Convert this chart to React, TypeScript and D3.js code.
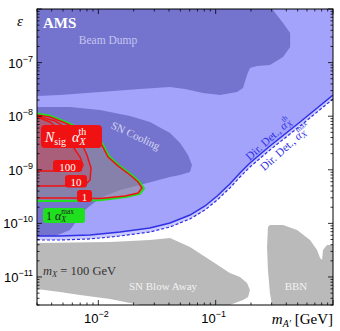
import React from 'react';
import * as d3 from 'd3';

type Pt = [number, number];

// mass m_A' in GeV, kinetic mixing epsilon
const beamDump: Pt[] = [
  [3e-3, 1e-6], [0.29, 1e-6], [0.308, 9.6e-7], [0.375, 5.48e-7], [0.431, 3.56e-7],
  [0.431, 1.95e-7], [0.375, 1.27e-7], [0.29, 9.02e-8], [0.225, 8.64e-8], [0.196, 7.93e-8],
  [0.185, 5.87e-8], [0.171, 3.36e-8], [0.152, 2.83e-8], [0.109, 2.49e-8], [0.078, 2.71e-8],
  [0.0548, 3.22e-8], [0.0408, 3.51e-8], [0.0226, 3.22e-8], [0.0103, 2.83e-8],
  [4.71e-3, 2.49e-8], [3e-3, 2.38e-8],
];

const snCooling: Pt[] = [
  [3e-3, 1.49e-8], [5.73e-3, 1.49e-8], [1.03e-2, 1.31e-8], [1.86e-2, 1.01e-8],
  [2.75e-2, 7.79e-9], [4.08e-2, 4.86e-9], [4.97e-2, 3.16e-9], [5.81e-2, 1.89e-9],
  [6.28e-2, 1.23e-9], [6.04e-2, 9.1e-10], [4.97e-2, 8e-10], [4.08e-2, 7.34e-10],
  [2.26e-2, 5.2e-10], [1.53e-2, 4.2e-10], [1.03e-2, 2.98e-10], [7.69e-3, 1.78e-10],
  [5.73e-3, 7.53e-11], [4.27e-3, 5.82e-11], [3e-3, 5.82e-11],
];

const dirDetTh: Pt[] = [
  [3e-3, 5.82e-11], [4.71e-3, 5.82e-11], [8.49e-3, 6.08e-11], [1.53e-2, 6.9e-11],
  [2.75e-2, 8.2e-11], [4.08e-2, 1.02e-10], [6.04e-2, 1.43e-10], [8.11e-2, 2.11e-10],
  [0.103, 3.24e-10], [0.132, 5.43e-10], [0.161, 8.71e-10], [0.196, 1.34e-9],
  [0.29, 2.78e-9], [0.524, 7.79e-9], [1.0, 2.49e-8],
];

const dirDetMax: Pt[] = [
  [3e-3, 4.9e-11], [4.71e-3, 4.9e-11], [8.49e-3, 5.12e-11], [1.53e-2, 5.82e-11],
  [2.75e-2, 6.9e-11], [4.08e-2, 8.56e-11], [6.04e-2, 1.21e-10], [8.11e-2, 1.78e-10],
  [0.103, 2.73e-10], [0.132, 4.57e-10], [0.161, 7.34e-10], [0.196, 1.13e-9],
  [0.29, 2.34e-9], [0.524, 6.56e-9], [1.0, 2.09e-8],
];

const snBlowAway: Pt[] = [
  [3e-3, 4.31e-11], [1.26e-2, 4.5e-11], [2.75e-2, 4.9e-11], [4.08e-2, 5.34e-11],
  [6.04e-2, 3.63e-11], [8.95e-2, 2.07e-11], [0.132, 1.19e-11], [0.161, 1e-11],
  [0.185, 7.73e-12], [0.196, 5.71e-12], [0.189, 4.23e-12], [0.171, 3.73e-12],
  [0.146, 3.27e-12], [0.132, 3e-12], [2.26e-2, 3e-12], [1.86e-2, 3.27e-12],
  [1.26e-2, 3.89e-12], [6.98e-3, 4.61e-12], [4.71e-3, 5.25e-12], [3e-3, 5.97e-12],
];

const bbn: Pt[] = [
  [0.279, 8.56e-11], [0.274, 3.63e-11], [0.279, 1.35e-11], [0.29, 5.03e-12],
  [0.302, 3e-12], [1.0, 3e-12], [1.0, 3.95e-11], [0.889, 3.95e-11], [0.822, 3.19e-11],
  [0.807, 2.07e-11], [0.776, 2.26e-11], [0.731, 3.19e-11], [0.637, 4.9e-11],
  [0.494, 7.53e-11], [0.375, 9.33e-11], [0.29, 9.33e-11],
];

const nsig100: Pt[] = [
  [3e-3, 9.66e-9], [3.87e-3, 7.79e-9], [4.9e-3, 5.07e-9], [5.95e-3, 2.9e-9],
  [6.98e-3, 1.73e-9], [7.4e-3, 1.23e-9], [7.11e-3, 9.91e-10], [5.73e-3, 9.5e-10],
  [3e-3, 9.5e-10],
];

const nsig10: Pt[] = [
  [3e-3, 1.01e-8], [4.27e-3, 8.13e-9], [5.73e-3, 5.53e-9], [6.98e-3, 3.6e-9],
  [8.0e-3, 1.89e-9], [8.66e-3, 1.08e-9], [8.49e-3, 6.45e-10], [7.69e-3, 5.2e-10],
  [4.71e-3, 4.98e-10], [3e-3, 4.98e-10],
];

const nsig1: Pt[] = [
  [3e-3, 1.05e-8], [3.87e-3, 9.66e-9], [5.2e-3, 7.46e-9], [6.98e-3, 5.53e-9],
  [9e-3, 4.09e-9], [1.07e-2, 2.9e-9], [1.21e-2, 1.73e-9], [1.47e-2, 1.18e-9],
  [1.86e-2, 8e-10], [2.18e-2, 5.92e-10], [2.35e-2, 4.57e-10], [2.18e-2, 3.69e-10],
  [1.69e-2, 3.24e-10], [1.03e-2, 2.9e-10], [5.73e-3, 2.98e-10], [3e-3, 2.98e-10],
];

const alphaMax1: Pt[] = [
  [3e-3, 1.12e-8], [3.87e-3, 1.02e-8], [5.2e-3, 7.9e-9], [6.98e-3, 5.9e-9],
  [9.1e-3, 4.3e-9], [1.09e-2, 3.0e-9], [1.24e-2, 1.78e-9], [1.51e-2, 1.2e-9],
  [1.92e-2, 8.1e-10], [2.26e-2, 5.9e-10], [2.45e-2, 4.5e-10], [2.26e-2, 3.55e-10],
  [1.72e-2, 3.1e-10], [1.03e-2, 2.7e-10], [5.73e-3, 2.62e-10], [3e-3, 2.62e-10],
];

const massTicks = [1e-2, 1e-1];
const epsTicks = [1e-11, 1e-10, 1e-9, 1e-8, 1e-7];

const serif = '"Liberation Serif", "DejaVu Serif", serif';
const sans = '"Liberation Sans", Arial, sans-serif';

const DARK = '#7474ce';
const LIGHT = '#a3a3fc';
const PALE = '#cacafd';
const GRAY = '#bababa';
const RED = '#f01212';
const GREEN = '#1ee01e';
const BLUE = '#2f2fe6';

export default function App() {
  const x = d3.scaleLog().domain([3e-3, 1]).range([37, 333]);
  const y = d3.scaleLog().domain([3e-12, 1e-6]).range([305, 9]);
  const line = d3.line<Pt>().x(d => x(d[0])).y(d => y(d[1]));
  const poly = (pts: Pt[]) => line(pts) + 'Z';

  const [mx0, mx1] = x.domain();
  const [ey0, ey1] = y.domain();
  const lightRegion: Pt[] = [...dirDetTh, [mx1, ey1], [mx0, ey1]];
  const paleBand: Pt[] = [...dirDetTh, ...dirDetMax.slice().reverse()];

  const minorX = d3.range(-3, 1).flatMap(e => d3.range(1, 10).map(k => k * 10 ** e))
    .filter(v => v >= mx0 * 0.999 && v <= mx1 * 1.001);
  const minorY = d3.range(-12, -5).flatMap(e => d3.range(1, 10).map(k => k * 10 ** e))
    .filter(v => v >= ey0 * 0.999 && v <= ey1 * 1.001);
  const isMajor = (v: number) => Math.abs(Math.log10(v) - Math.round(Math.log10(v))) < 1e-6;

  const L = x.range()[0], R = x.range()[1], T = y.range()[1], B = y.range()[0];

  return (
    <svg width={340} height={331} style={{ position: 'absolute', left: 0, top: 0, background: '#fff' }}>
      <defs>
        <clipPath id="plot"><rect x={L} y={T} width={R - L} height={B - T} /></clipPath>
      </defs>
      <g clipPath="url(#plot)">
        <rect x={L} y={T} width={R - L} height={B - T} fill="#fff" />
        <path d={poly(paleBand)} fill={PALE} />
        <path d={poly(lightRegion)} fill={LIGHT} />
        <path d={poly(beamDump)} fill={DARK} />
        <path d={poly(snCooling)} fill={DARK} />
        <path d={poly(snBlowAway)} fill={GRAY} />
        <path d={poly(bbn)} fill={GRAY} />

        <path d={poly(alphaMax1)} fill="rgba(150,140,140,0.55)" />
        <path d={poly(nsig10)} fill="rgba(210,60,70,0.25)" />
        <path d={poly(nsig100)} fill="rgba(210,60,70,0.3)" />
        <path d={line(alphaMax1)!} fill="none" stroke={GREEN} strokeWidth={2} />
        <path d={line(nsig1)!} fill="none" stroke={RED} strokeWidth={1.5} />
        <path d={line(nsig10)!} fill="none" stroke={RED} strokeWidth={1.5} />
        <path d={line(nsig100)!} fill="none" stroke={RED} strokeWidth={1.5} />

        <path d={line(dirDetTh)!} fill="none" stroke={BLUE} strokeWidth={1.5} />
        <path d={line(dirDetMax)!} fill="none" stroke={BLUE} strokeWidth={1.2} strokeDasharray="3,2" />
      </g>

      {/* annotations */}
      <text x={43} y={28} fill="#fff" fontFamily={serif} fontWeight="bold" fontSize={15}>AMS</text>
      <text x={108} y={44} fill="#c4c4f2" fontFamily={serif} fontSize={11.5} textAnchor="middle">Beam Dump</text>
      <text x={0} y={0} fill="#d6d6f4" fontFamily={serif} fontSize={11} textAnchor="middle"
        transform="translate(134,139) rotate(25)">SN Cooling</text>

      <g fontFamily={serif} fontSize={11.5} fill={BLUE} textAnchor="middle">
        <text transform="translate(271,142) rotate(-42)">
          Dir. Det., <tspan fontStyle="italic">α</tspan><tspan fontStyle="italic" fontSize={8.5} dy={2}>X</tspan><tspan fontSize={7.5} dx={-6} dy={-8}>th</tspan>
        </text>
        <text transform="translate(288,150) rotate(-42)">
          Dir. Det., <tspan fontStyle="italic">α</tspan><tspan fontStyle="italic" fontSize={8.5} dy={2}>X</tspan><tspan fontSize={7.5} dx={-6} dy={-8}>max</tspan>
        </text>
      </g>

      <text x={43} y={275} fill="#333" fontFamily={serif} fontSize={12.5}>
        <tspan fontStyle="italic">m</tspan><tspan fontStyle="italic" fontSize={8.5} dy={2}>X</tspan><tspan dy={-2}> = 100 GeV</tspan>
      </text>
      <text x={163} y={290} fill="#f2f2f2" fontFamily={serif} fontSize={11} textAnchor="middle">SN Blow Away</text>
      <text x={296} y={290} fill="#f2f2f2" fontFamily={serif} fontSize={11} textAnchor="middle">BBN</text>

      {/* contour labels */}
      <g fontFamily={serif} fill="#fff">
        <rect x={41} y={125} width={61} height={23} rx={4} fill={RED} />
        <text x={45} y={142} fontSize={14}>
          <tspan fontStyle="italic">N</tspan><tspan fontSize={10} dy={3}>sig</tspan>
          <tspan fontStyle="italic" dy={-3} dx={6}>α</tspan><tspan fontStyle="italic" fontSize={10} dy={3}>X</tspan><tspan fontSize={10} dx={-7} dy={-10}>th</tspan>
        </text>
        <rect x={53} y={160} width={29} height={12} rx={3} fill={RED} />
        <text x={67.5} y={170.5} fontSize={11} textAnchor="middle">100</text>
        <rect x={65} y={175} width={22} height={12.5} rx={3} fill={RED} />
        <text x={76} y={185.5} fontSize={11} textAnchor="middle">10</text>
        <rect x={77} y={190} width={15} height={12} rx={3} fill={RED} />
        <text x={84.5} y={200.5} fontSize={11} textAnchor="middle">1</text>
        <rect x={43} y={208} width={42} height={15} rx={3} fill={GREEN} />
        <text x={46} y={219.5} fontSize={12} fill="#222">
          1 <tspan fontStyle="italic">α</tspan><tspan fontStyle="italic" fontSize={8} dy={2}>X</tspan><tspan fontSize={7.5} dx={-5} dy={-8}>max</tspan>
        </text>
      </g>

      {/* frame and ticks */}
      <rect x={L} y={T} width={R - L} height={B - T} fill="none" stroke="#000" strokeWidth={1} />
      <g stroke="#000" strokeWidth={0.8}>
        {minorX.map((v, i) => {
          const len = isMajor(v) ? 5 : 2.5;
          return (
            <g key={'x' + i}>
              <line x1={x(v)} x2={x(v)} y1={B} y2={B - len} />
              <line x1={x(v)} x2={x(v)} y1={T} y2={T + len} />
            </g>
          );
        })}
        {minorY.map((v, i) => {
          const len = isMajor(v) ? 5 : 2.5;
          return (
            <g key={'y' + i}>
              <line x1={L} x2={L + len} y1={y(v)} y2={y(v)} />
              <line x1={R} x2={R - len} y1={y(v)} y2={y(v)} />
            </g>
          );
        })}
      </g>

      <g fontFamily={sans} fill="#000">
        {massTicks.map(v => (
          <text key={'mx' + v} x={x(v) - 2} y={323} fontSize={13} textAnchor="middle">
            10<tspan fontSize={9} dy={-6}>{'\u2212' + Math.abs(Math.round(Math.log10(v)))}</tspan>
          </text>
        ))}
        {epsTicks.map(v => (
          <text key={'ey' + v} x={33} y={y(v) + 5} fontSize={13} textAnchor="end">
            10<tspan fontSize={9} dy={-6}>{'\u2212' + Math.abs(Math.round(Math.log10(v)))}</tspan>
          </text>
        ))}
      </g>

      <text x={20} y={26} fontFamily={serif} fontStyle="italic" fontSize={15} textAnchor="middle">ε</text>
      <text x={333} y={324} fontFamily={serif} fontSize={15} textAnchor="end">
        <tspan fontStyle="italic">m</tspan><tspan fontStyle="italic" fontSize={10} dy={3}>A′</tspan><tspan dy={-3}> [GeV]</tspan>
      </text>
    </svg>
  );
}
